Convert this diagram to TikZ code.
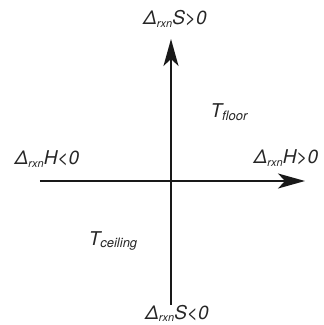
\documentclass[tikz,border=0pt]{standalone}
\usepackage{fontspec}
\setsansfont{TeX Gyre Heros}
\usetikzlibrary{arrows.meta}
\newcommand{\lowtxt}[2][11]{\raisebox{-2.5pt}{\fontsize{#1}{12}\selectfont #2}}

\begin{document}
\begin{tikzpicture}[x=1pt,y=1pt,
 lbl/.style={inner sep=0pt,font=\fontsize{19}{21}\selectfont\sffamily\itshape,text=black!85},
 axis/.style={draw=black!90,line width=1.9pt,-{Stealth[length=27pt,width=15pt,inset=7pt]}}]
\useasboundingbox (0,0) rectangle (324,325);
\coordinate (w) at (40,144);
\coordinate (e) at (305,144);
\coordinate (s) at (171,20);
\coordinate (n) at (171,286);
\node[lbl] (sup) at (175,306) {Δ\lowtxt{rxn}S>0};
\node[lbl,anchor=south] (sdown) at (177,3) {Δ\lowtxt{rxn}S<0};
\node[lbl] (hneg) at (47,166) {Δ\lowtxt{rxn}H<0};
\node[lbl] (hpos) at (286,167) {Δ\lowtxt{rxn}H>0};
\node[lbl] (tfloor) at (229,213) {T\lowtxt[13]{floor}};
\node[lbl] (tceil) at (113,84) {T\lowtxt[13]{ceiling}};
\draw[axis] (w) -- (e);
\draw[axis] (s) -- (n);
\end{tikzpicture}
\end{document}
